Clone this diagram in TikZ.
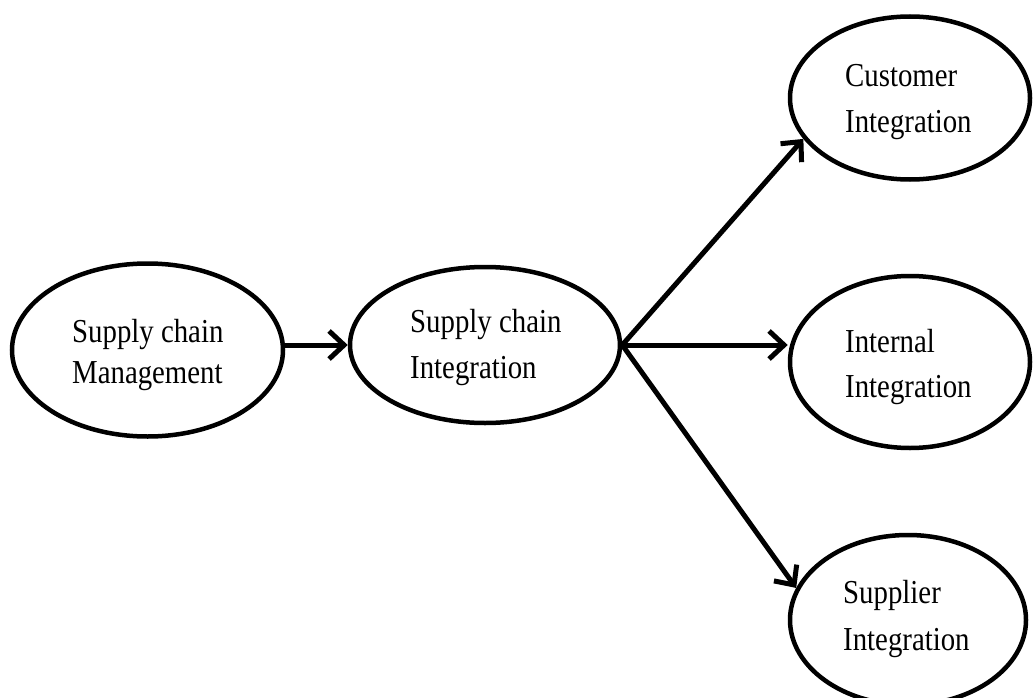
\documentclass[tikz,border=0pt]{standalone}
\usepackage{fontspec}
\newfontfamily\lblfont[FakeStretch=0.86]{Liberation Serif}
\usetikzlibrary{shapes.geometric,arrows.meta}
\begin{document}
\begin{tikzpicture}[x=1pt,y=-1pt,
  oval/.style={ellipse, draw, line width=4.5pt, inner sep=0pt},
  lbl/.style={anchor=base west, inner sep=0pt, font=\lblfont\fontsize{33.5}{40}\selectfont},
  conn/.style={line width=5pt, -{Straight Barb[length=15pt,width=28pt,line width=5pt]}}]
\useasboundingbox (0,0) rectangle (1033,698);
\fill[white] (0,0) rectangle (1033,698);
\node[oval, minimum width=271pt, minimum height=173pt] (scm) at (147.5,350) {};
\node[oval, minimum width=270pt, minimum height=156pt] (sci) at (485,345) {};
\node[oval, minimum width=240pt, minimum height=163pt] (cust) at (910,98) {};
\node[oval, minimum width=240pt, minimum height=172pt] (int) at (910,362) {};
\node[oval, minimum width=236pt, minimum height=170pt] (sup) at (908,620) {};
\node[lbl] (scm1) at (72,342) {Supply chain};
\node[lbl] (scm2) at (72,383) {Management};
\node[lbl] (sci1) at (410,332) {Supply chain};
\node[lbl] (sci2) at (410,378) {Integration};
\node[lbl] (cust1) at (845,87) {Customer};
\node[lbl] (cust2) at (845,132) {Integration};
\node[lbl] (int1) at (845,352) {Internal};
\node[lbl] (int2) at (845,397) {Integration};
\node[lbl] (sup1) at (843,603) {Supplier};
\node[lbl] (sup2) at (843,650) {Integration};
\draw[conn] (scm.east |- sci.west) -- (sci.west);
\draw[conn] (sci.east) -- (cust.201);
\draw[conn] (sci.east) -- (sci.east -| int.west);
\draw[conn] (sci.east) -- (sup.164);
\end{tikzpicture}
\end{document}
